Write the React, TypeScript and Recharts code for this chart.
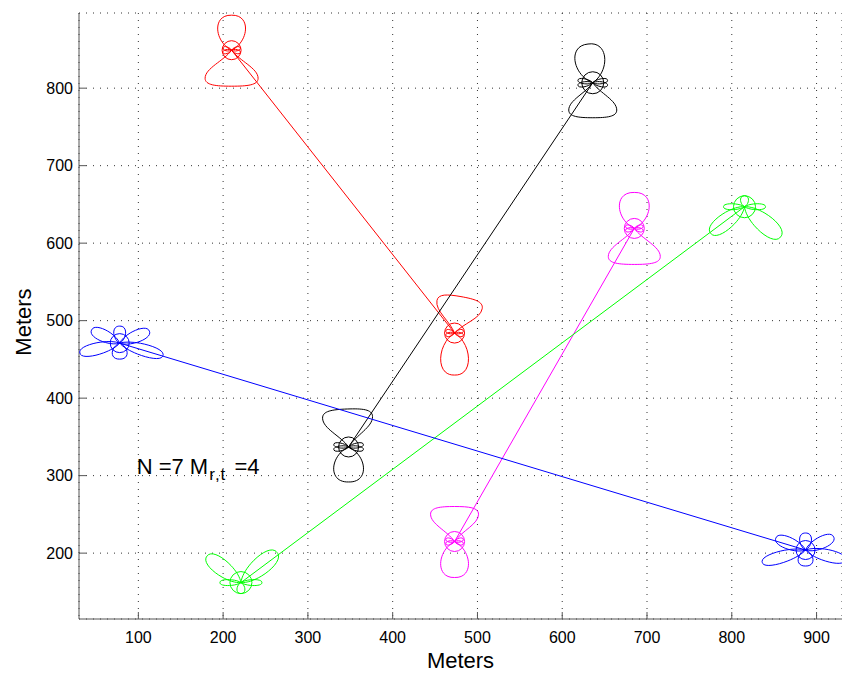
import React from 'react';
import { ComposedChart, Scatter, XAxis, YAxis, CartesianGrid, ReferenceDot } from 'recharts';

// ---- data (meters) ----
const xTicks = [100, 200, 300, 400, 500, 600, 700, 800, 900];
const yTicks = [200, 300, 400, 500, 600, 700, 800];

const redLink = [
  { id: 'redA', x: 210, y: 849 },
  { id: 'redB', x: 473, y: 484 },
];
const blackLink = [
  { id: 'blackB', x: 348, y: 337 },
  { id: 'blackA', x: 636, y: 807 },
];
const magentaLink = [
  { id: 'magA', x: 473, y: 215 },
  { id: 'magB', x: 685, y: 619 },
];
const greenLink = [
  { id: 'greenA', x: 221, y: 162 },
  { id: 'greenB', x: 815, y: 647 },
];
const blueLink = [
  { id: 'blueA', x: 78, y: 471 },
  { id: 'blueB', x: 887, y: 204 },
];

// antenna pattern lobes: [direction deg, reach, width, kind]
type Lobe = [number, number, number, string];
const whiskSmall: Lobe[] = [[15, 9, 4, 't'], [-15, 9, 4, 't'], [165, 9, 4, 't'], [195, 9, 4, 't']];
const whiskLong: Lobe[] = [[10, 15, 5, 't'], [-10, 15, 5, 't'], [170, 15, 5, 't'], [190, 15, 5, 't']];
const lobeTable: Record<string, Lobe[]> = {
  redA: [[90, 35, 28, 't'], [-90, 36, 53, 'b'], ...whiskSmall],
  redB: [[80, 37, 46, 'b'], [-90, 42, 28, 't'], ...whiskSmall],
  blackA: [[97, 39, 30, 't'], [-90, 35, 48, 'b'], ...whiskLong],
  blackB: [[92, 38, 50, 'b'], [-90, 35, 30, 't'], ...whiskLong],
  magA: [[90, 35, 48, 'b'], [-90, 36, 28, 't'], ...whiskSmall],
  magB: [[90, 36, 30, 't'], [-90, 36, 52, 'b'], ...whiskSmall],
  greenA: [[142, 43, 16, 't'], [40, 47, 18, 't'], [180, 21, 6, 't'], [0, 21, 6, 't'], [-90, 11, 8, 't']],
  greenB: [[-142, 43, 16, 't'], [-40, 47, 18, 't'], [180, 21, 6, 't'], [0, 21, 6, 't'], [90, 11, 8, 't']],
  blueA: [[155, 31, 12, 't'], [22, 32, 12, 't'], [194, 41, 12, 't'], [-16, 45, 12, 't'], [90, 17, 12, 't'], [-90, 16, 15, 't']],
  blueB: [[25, 31, 12, 't'], [158, 32, 12, 't'], [-14, 41, 12, 't'], [196, 45, 12, 't'], [90, 17, 12, 't'], [-90, 16, 15, 't']],
};
const ringTable: Record<string, number> = {
  redA: 9.5, redB: 10, blackA: 11, blackB: 10, magA: 10, magB: 10,
  greenA: 11, greenB: 11, blueA: 9.5, blueB: 9.5,
};

const FONT = '"Liberation Sans", Arial, Helvetica, sans-serif';

function petalPath(cx: number, cy: number, lobe: Lobe) {
  const [deg, L, W, kind] = lobe;
  const a = (deg * Math.PI) / 180;
  const ux = Math.cos(a), uy = -Math.sin(a);
  const vx = -uy, vy = ux;
  const h = W / 2;
  const P = (s: number, t: number) =>
    `${(cx + s * L * ux + t * h * vx).toFixed(2)},${(cy + s * L * uy + t * h * vy).toFixed(2)}`;
  if (kind === 't') {
    return `M${P(0, 0)} C${P(0.25, 1.25)} ${P(1.02, 1.4)} ${P(1, 0)} C${P(1.02, -1.4)} ${P(0.25, -1.25)} ${P(0, 0)}`;
  }
  return `M${P(0, 0)} C${P(0.3, 0.3)} ${P(0.5, 1)} ${P(0.78, 1)} C${P(0.97, 1)} ${P(1, 0.6)} ${P(1, 0)} C${P(1, -0.6)} ${P(0.97, -1)} ${P(0.78, -1)} C${P(0.5, -1)} ${P(0.3, -0.3)} ${P(0, 0)}`;
}

const makeShape = (color: string) => (props: any) => {
  const { cx, cy, payload } = props;
  if (cx == null || cy == null || !payload) return <g />;
  const lobes = lobeTable[payload.id] || [];
  return (
    <g fill="none" stroke={color} strokeWidth={1}>
      <circle cx={cx} cy={cy} r={ringTable[payload.id] || 10} />
      {lobes.map((l, i) => (
        <path key={i} d={petalPath(cx, cy, l)} />
      ))}
    </g>
  );
};

const series = [
  { data: redLink, color: '#ff0000' },
  { data: blackLink, color: '#000000' },
  { data: magentaLink, color: '#ff00ff' },
  { data: greenLink, color: '#00ff00' },
  { data: blueLink, color: '#0000ff' },
];

const YLabel = (props: any) => {
  const vb = props.viewBox || { x: 0, y: 13, width: 79, height: 606 };
  const x = vb.x + 31;
  const y = vb.y + vb.height / 2 + 6;
  return (
    <text x={x} y={y} transform={`rotate(-90 ${x} ${y})`} textAnchor="middle" fontSize={22} fontFamily={FONT} fill="#000">
      Meters
    </text>
  );
};

const XLabel = (props: any) => {
  const vb = props.viewBox || { x: 79, y: 619, width: 763, height: 54 };
  return (
    <text x={vb.x + vb.width / 2} y={vb.y + 49} textAnchor="middle" fontSize={22} fontFamily={FONT} fill="#000">
      Meters
    </text>
  );
};

const Annotation = (props: any) => {
  const vb = props.viewBox || { x: 0, y: 0 };
  return (
    <text x={vb.x} y={vb.y} fontSize={22} fontFamily={FONT} fill="#000">
      N =7 M
      <tspan fontSize={17} dy={6} dx={1} letterSpacing={1}>r,t</tspan>
      <tspan dy={-6} dx={2}> =4</tspan>
    </text>
  );
};

export default function App() {
  return (
    <div style={{ position: 'absolute', left: 0, top: 0, width: 842, height: 673, background: '#fff' }}>
      <ComposedChart width={842} height={673} margin={{ top: 13, right: 0, bottom: 0, left: 0 }}>
        <CartesianGrid stroke="#333" strokeDasharray="1 6" strokeWidth={1} />
        <XAxis
          type="number"
          dataKey="x"
          domain={[30, 930]}
          ticks={xTicks}
          allowDataOverflow
          height={54}
          tickSize={-7}
          tickMargin={20}
          axisLine={{ stroke: '#555' }}
          tickLine={{ stroke: '#555' }}
          tick={{ fill: '#000', fontSize: 16, fontFamily: FONT }}
          label={<XLabel />}
        />
        <YAxis
          type="number"
          dataKey="y"
          domain={[115, 897]}
          ticks={yTicks}
          allowDataOverflow
          width={79}
          tickSize={-7}
          tickMargin={13}
          axisLine={{ stroke: '#555' }}
          tickLine={{ stroke: '#555' }}
          tick={{ fill: '#000', fontSize: 16, fontFamily: FONT }}
          label={<YLabel />}
        />
        {series.map((s, i) => (
          <Scatter
            key={i}
            data={s.data}
            fill="none"
            stroke={s.color}
            line={{ stroke: s.color, strokeWidth: 1 }}
            shape={makeShape(s.color)}
            isAnimationActive={false}
          />
        ))}
        <ReferenceDot x={98} y={302} r={0} fill="none" stroke="none" label={<Annotation />} />
      </ComposedChart>
    </div>
  );
}
